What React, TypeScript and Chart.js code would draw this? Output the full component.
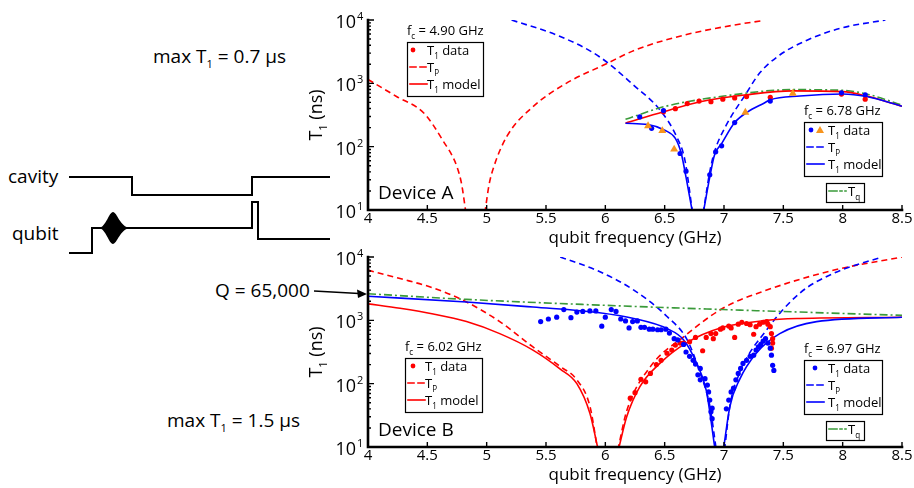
import { useEffect, useRef } from 'react';
import { Chart, registerables } from 'chart.js';

Chart.register(...registerables);

const FONT = '"Open Sans", "Noto Sans", "DejaVu Sans", sans-serif';

const RED = '#ff0000';
const BLUE = '#0000ff';
const GREEN = '#3a9a3a';
const ORANGE = '#f7941d';

// Axis ticks
const freqTicks = [4, 4.5, 5, 5.5, 6, 6.5, 7, 7.5, 8, 8.5];
const freqTickLabels = ['4', '4.5', '5', '5.5', '6', '6.5', '7', '7.5', '8', '8.5'];
const decadeTicks = [10, 100, 1000, 10000];
const decadeExponents = ['1', '2', '3', '4'];

// ---------- Device A (GHz, ns) ----------
const aRedTpLoF = [4.0, 4.24, 4.47, 4.63, 4.75, 4.79, 4.825];
const aRedTpLoT = [1150, 620, 340, 126, 48, 25, 9];
const aRedTpHiF = [4.985, 5.02, 5.06, 5.17, 5.39, 5.67, 6.0, 6.26, 6.66, 7.08, 7.33];
const aRedTpHiT = [9, 25, 48, 145, 427, 1000, 2000, 3400, 5750, 8300, 9800];
const aBlueTpLoF = [5.21, 5.62, 5.95, 6.24, 6.46, 6.6, 6.67, 6.735];
const aBlueTpLoT = [10000, 5500, 2630, 930, 380, 145, 62, 9];
const aBlueTpHiF = [6.825, 6.88, 6.92, 7.02, 7.18, 7.3, 7.47, 7.7, 7.98, 8.36];
const aBlueTpHiT = [9, 40, 83, 220, 660, 1450, 2800, 4800, 7400, 10000];
const aRedModelF = [6.17, 6.49, 6.8, 7.19, 7.58, 8.0, 8.2, 8.5];
const aRedModelT = [235, 355, 513, 660, 760, 740, 630, 435];
const aTqF = [6.17, 6.5, 7.0, 7.58, 8.0, 8.2, 8.5];
const aTqT = [270, 430, 630, 795, 775, 680, 455];
const aBlueModelLoF = [6.17, 6.36, 6.5, 6.59, 6.64, 6.68, 6.735];
const aBlueModelLoT = [234, 224, 182, 135, 78, 33, 9];
const aBlueModelHiF = [6.825, 6.88, 6.92, 6.98, 7.09, 7.2, 7.34, 7.39, 7.64, 8.0, 8.2, 8.5];
const aBlueModelHiT = [9, 33, 74, 112, 240, 355, 490, 550, 630, 680, 620, 435];
const aRedDataF = [6.49, 6.59, 6.69, 6.79, 6.89, 6.99, 7.09, 7.19, 7.39, 7.99, 8.19];
const aRedDataT = [355, 398, 479, 525, 513, 562, 589, 617, 603, 676, 562];
const aBlueDataF = [6.29, 6.39, 6.49, 6.63, 6.68, 6.88, 6.93, 6.98, 7.09, 7.39, 7.99, 8.19];
const aBlueDataT = [295, 195, 372, 78, 41, 36, 83, 103, 240, 525, 708, 660];
const aOrangeDataF = [6.36, 6.48, 6.58, 7.18, 7.58];
const aOrangeDataT = [213, 178, 91, 347, 692];

// ---------- Device B (GHz, ns) ----------
const bRedTpLoF = [4.0, 4.27, 4.55, 4.83, 5.11, 5.39, 5.62, 5.76, 5.87, 5.935];
const bRedTpLoT = [6200, 4570, 3240, 1950, 955, 380, 186, 115, 44, 9];
const bRedTpHiF = [6.105, 6.18, 6.38, 6.66, 6.99, 7.36, 7.92, 8.5];
const bRedTpHiT = [9, 37, 186, 550, 1550, 3000, 6170, 10000];
const bRedModelLoF = [4.0, 4.27, 4.55, 4.83, 5.11, 5.39, 5.62, 5.76, 5.87, 5.94];
const bRedModelLoT = [1820, 1550, 1260, 955, 617, 339, 170, 100, 34, 9];
const bRedModelHiF = [6.11, 6.18, 6.29, 6.46, 6.68, 6.99, 7.36, 7.64, 8.5];
const bRedModelHiT = [9, 30, 89, 209, 437, 776, 1000, 1070, 1120];
const bBlueTpLoF = [5.62, 5.95, 6.24, 6.52, 6.69, 6.8, 6.88, 6.935];
const bBlueTpLoT = [10000, 5900, 3000, 1150, 490, 145, 45, 9];
const bBlueTpHiF = [7.005, 7.05, 7.13, 7.36, 7.64, 7.92, 8.33];
const bBlueTpHiT = [9, 45, 145, 710, 2700, 5500, 10000];
const bBlueModelLoF = [4.0, 4.83, 5.39, 5.95, 6.24, 6.52, 6.66, 6.77, 6.85, 6.925];
const bBlueModelLoT = [2400, 1950, 1620, 1320, 1070, 740, 490, 209, 79, 9];
const bBlueModelHiF = [6.995, 7.05, 7.13, 7.27, 7.47, 7.78, 8.5];
const bBlueModelHiT = [9, 44, 115, 300, 617, 955, 1120];
const bTqF = [4.0, 4.83, 5.95, 6.99, 8.5];
const bTqT = [2630, 2140, 1740, 1480, 1200];
const bBlueDataF = [
  5.455, 5.52, 5.59, 5.65, 5.71, 5.76, 5.81, 5.87, 5.92, 5.97, 6.0, 6.05, 6.09, 6.13, 6.17, 6.2,
  6.23, 6.27, 6.3, 6.33, 6.37, 6.4, 6.44, 6.47, 6.51, 6.54, 6.58, 6.61, 6.66, 6.68, 6.71, 6.74,
  6.76, 6.78, 6.8, 6.8, 6.84, 6.86, 6.87, 6.88, 6.89, 6.9, 6.9, 7.02, 7.04, 7.06, 7.08, 7.1,
  7.12, 7.14, 7.16, 7.19, 7.22, 7.25, 7.27, 7.29, 7.31, 7.33, 7.35, 7.37, 7.39, 7.4, 7.41, 7.42,
];
const bBlueDataT = [
  955, 1050, 1120, 1480, 1100, 1350, 1380, 1410, 1410, 810, 1120, 1480, 1380, 1050, 980, 760,
  955, 980, 775, 775, 725, 725, 710, 710, 725, 630, 513, 490, 417, 316, 270, 234,
  204, 138, 115, 174, 120, 95, 74, 55, 36, 41, 28, 40, 55, 74, 85, 115,
  145, 174, 209, 234, 270, 282, 339, 380, 417, 468, 513, 437, 363, 282, 195, 162,
];
const bRedDataF = [
  6.21, 6.25, 6.3, 6.34, 6.38, 6.43, 6.47, 6.52, 6.56, 6.59, 6.63, 6.66, 6.71, 6.76, 6.82, 6.85,
  6.89, 6.91, 6.93, 6.97, 6.99, 7.04, 7.06, 7.09, 7.12, 7.15, 7.19, 7.22, 7.25, 7.27, 7.3, 7.33,
  7.36, 7.37, 7.39, 7.4, 7.41, 7.41, 7.4,
];
const bRedDataT = [
  59, 72, 117, 107, 145, 200, 234, 302, 339, 407, 437, 437, 457, 537, 331, 537,
  617, 513, 617, 724, 759, 813, 759, 537, 871, 933, 891, 851, 603, 794, 871, 933,
  955, 871, 794, 617, 513, 437, 363,
];

type Part = [string, number]; // 0 normal, 1 subscript, 2 superscript

function drawRich(ctx: CanvasRenderingContext2D, parts: Part[], x: number, y: number, size: number, align = 'left') {
  const small = size * 0.62;
  let w = 0;
  for (const p of parts) {
    ctx.font = `${p[1] ? small : size}px ${FONT}`;
    w += ctx.measureText(p[0]).width;
  }
  let cx = align === 'center' ? x - w / 2 : align === 'right' ? x - w : x;
  ctx.textAlign = 'left';
  ctx.textBaseline = 'alphabetic';
  for (const p of parts) {
    ctx.font = `${p[1] ? small : size}px ${FONT}`;
    const dy = p[1] === 1 ? size * 0.3 : p[1] === 2 ? -size * 0.45 : 0;
    ctx.fillText(p[0], cx, y + dy);
    cx += ctx.measureText(p[0]).width;
  }
}

const pts = (f: number[], t: number[]) => f.map((x, i) => ({ x, y: t[i] }));
const DASH = [6, 4];
const DASHDOT = [8, 3, 2, 3];

const curve = (f: number[], t: number[], color: string, dash: number[] = []) => ({
  data: pts(f, t),
  showLine: true,
  pointRadius: 0,
  borderColor: color,
  borderWidth: 1.6,
  borderDash: dash,
  cubicInterpolationMode: 'monotone',
  fill: false,
});

const dots = (f: number[], t: number[], color: string, style = 'circle', r = 2.6) => ({
  data: pts(f, t),
  showLine: false,
  pointRadius: r,
  pointStyle: style,
  backgroundColor: color,
  borderColor: color,
  pointBorderWidth: 0,
});

function drawIcon(ctx: CanvasRenderingContext2D, kind: string, color: string, x: number, y: number) {
  ctx.save();
  ctx.fillStyle = color;
  ctx.strokeStyle = color;
  ctx.lineWidth = 1.6;
  if (kind === 'dot') {
    ctx.beginPath();
    ctx.arc(x, y, 2.4, 0, Math.PI * 2);
    ctx.fill();
  } else if (kind === 'tri') {
    ctx.beginPath();
    ctx.moveTo(x, y - 4);
    ctx.lineTo(x + 4, y + 3);
    ctx.lineTo(x - 4, y + 3);
    ctx.closePath();
    ctx.fill();
  } else {
    ctx.setLineDash(kind === 'dash' ? DASH : kind === 'dashdot' ? DASHDOT : []);
    ctx.beginPath();
    ctx.moveTo(x, y);
    ctx.lineTo(x + 17, y);
    ctx.stroke();
  }
  ctx.restore();
}

const decorPlugin = {
  id: 'decor',
  afterDraw(chart: any, _args: any, opts: any) {
    const ctx: CanvasRenderingContext2D = chart.ctx;
    const { left, right, top, bottom } = chart.chartArea;
    const xs = chart.scales.x;
    const ys = chart.scales.y;
    ctx.save();
    ctx.fillStyle = '#000';
    ctx.strokeStyle = '#000';

    // tick marks (inside)
    ctx.lineWidth = 1.4;
    ctx.beginPath();
    for (const f of freqTicks) {
      const px = xs.getPixelForValue(f);
      ctx.moveTo(px, bottom);
      ctx.lineTo(px, bottom - 5);
    }
    for (let d = 0; d < decadeTicks.length; d++) {
      const base = decadeTicks[d];
      const last = d === decadeTicks.length - 1;
      for (let m = 1; m <= (last ? 1 : 9); m++) {
        const py = ys.getPixelForValue(base * m);
        ctx.moveTo(left, py);
        ctx.lineTo(left + (m === 1 ? 6 : 3), py);
      }
    }
    ctx.stroke();

    // axis lines
    ctx.lineWidth = 2.6;
    ctx.lineCap = 'square';
    ctx.beginPath();
    ctx.moveTo(left, top);
    ctx.lineTo(left, bottom);
    ctx.lineTo(right, bottom);
    ctx.stroke();

    // tick labels
    ctx.textAlign = 'center';
    ctx.textBaseline = 'alphabetic';
    ctx.font = `15px ${FONT}`;
    freqTicks.forEach((f, i) => {
      ctx.fillText(freqTickLabels[i], xs.getPixelForValue(f), bottom + 13);
    });
    decadeTicks.forEach((v, i) => {
      const py = ys.getPixelForValue(v);
      ctx.textAlign = 'right';
      ctx.font = `18px ${FONT}`;
      ctx.fillText('10', left - 12, py + 8);
      ctx.textAlign = 'left';
      ctx.font = `11px ${FONT}`;
      ctx.fillText(decadeExponents[i], left - 11, py);
    });

    // axis titles
    drawRich(ctx, [['qubit frequency (GHz)', 0]], (left + right) / 2, bottom + 33, 17, 'center');
    ctx.save();
    ctx.translate(16, (top + bottom) / 2);
    ctx.rotate(-Math.PI / 2);
    drawRich(ctx, [['T', 0], ['1', 1], [' (ns)', 0]], 0, 6, 18, 'center');
    ctx.restore();

    // device label
    drawRich(ctx, [[opts.device, 0]], left + 10, bottom - 11, 19);

    // legends
    for (const lg of opts.legends) {
      drawRich(ctx, [['f', 0], ['c', 1], [` = ${lg.fc} GHz`, 0]], lg.x, lg.y - 7, 13);
      ctx.lineWidth = 1.2;
      ctx.strokeStyle = '#000';
      ctx.strokeRect(lg.x + 0.5, lg.y + 0.5, lg.w, 54);
      const rows: Part[][] = [
        [['T', 0], ['1', 1], [' data', 0]],
        [['T', 0], ['P', 1]],
        [['T', 0], ['1', 1], [' model', 0]],
      ];
      const rowY = [lg.y + 8, lg.y + 25, lg.y + 42];
      lg.dataIcons.forEach((ic: any) => drawIcon(ctx, ic.kind, ic.color, lg.x + ic.dx, rowY[0]));
      drawIcon(ctx, 'dash', lg.color, lg.x + 3, rowY[1]);
      drawIcon(ctx, 'solid', lg.color, lg.x + 3, rowY[2]);
      rows.forEach((r, i) => drawRich(ctx, r, lg.x + lg.textDx, rowY[i] + 5, 13));
    }
    if (opts.tq) {
      const q = opts.tq;
      ctx.lineWidth = 1.2;
      ctx.strokeRect(q.x + 0.5, q.y + 0.5, 38, 19);
      drawIcon(ctx, 'dashdot', GREEN, q.x + 3, q.y + 8);
      drawRich(ctx, [['T', 0], ['q', 1]], q.x + 22, q.y + 13, 13);
    }
    ctx.restore();
  },
};

function Panel({ datasets, decor, top }: { datasets: any[]; decor: any; top: number }) {
  const ref = useRef<HTMLCanvasElement>(null);
  useEffect(() => {
    const chart = new Chart(ref.current as HTMLCanvasElement, {
      type: 'scatter',
      data: { datasets },
      options: {
        animation: false,
        responsive: false,
        events: [],
        layout: { padding: { left: 68, right: 12, top: 20, bottom: 40 } },
        scales: {
          x: { type: 'linear', min: 4, max: 8.5, display: false },
          y: { type: 'logarithmic', min: 10, max: 10000, display: false },
        },
        plugins: { legend: { display: false }, tooltip: { enabled: false }, decor } as any,
      },
      plugins: [decorPlugin],
    } as any);
    return () => chart.destroy();
  }, []);
  return (
    <canvas
      ref={ref}
      width={614}
      height={250}
      style={{ position: 'absolute', left: 300, top, width: 614, height: 250 }}
    />
  );
}

const deviceA = [
  dots(aOrangeDataF, aOrangeDataT, ORANGE, 'triangle', 4.6),
  dots(aBlueDataF, aBlueDataT, BLUE),
  dots(aRedDataF, aRedDataT, RED),
  curve(aBlueModelLoF, aBlueModelLoT, BLUE),
  curve(aBlueModelHiF, aBlueModelHiT, BLUE),
  curve(aRedModelF, aRedModelT, RED),
  curve(aTqF, aTqT, GREEN, DASHDOT),
  curve(aBlueTpLoF, aBlueTpLoT, BLUE, DASH),
  curve(aBlueTpHiF, aBlueTpHiT, BLUE, DASH),
  curve(aRedTpLoF, aRedTpLoT, RED, DASH),
  curve(aRedTpHiF, aRedTpHiT, RED, DASH),
];

const deviceB = [
  dots(bBlueDataF, bBlueDataT, BLUE),
  dots(bRedDataF, bRedDataT, RED),
  curve(bBlueModelLoF, bBlueModelLoT, BLUE),
  curve(bBlueModelHiF, bBlueModelHiT, BLUE),
  curve(bRedModelLoF, bRedModelLoT, RED),
  curve(bRedModelHiF, bRedModelHiT, RED),
  curve(bTqF, bTqT, GREEN, DASHDOT),
  curve(bBlueTpLoF, bBlueTpLoT, BLUE, DASH),
  curve(bBlueTpHiF, bBlueTpHiT, BLUE, DASH),
  curve(bRedTpLoF, bRedTpLoT, RED, DASH),
  curve(bRedTpHiF, bRedTpHiT, RED, DASH),
];

const decorA = {
  device: 'Device A',
  legends: [
    { fc: '4.90', x: 107, y: 42, w: 76, color: RED, textDx: 20, dataIcons: [{ kind: 'dot', color: RED, dx: 6 }] },
    {
      fc: '6.78', x: 504, y: 122, w: 78, color: BLUE, textDx: 24,
      dataIcons: [{ kind: 'dot', color: BLUE, dx: 7 }, { kind: 'tri', color: ORANGE, dx: 16 }],
    },
  ],
  tq: { x: 526, y: 183 },
};

const decorB = {
  device: 'Device B',
  legends: [
    { fc: '6.02', x: 105, y: 121, w: 77, color: RED, textDx: 20, dataIcons: [{ kind: 'dot', color: RED, dx: 8 }] },
    { fc: '6.97', x: 504, y: 123, w: 78, color: BLUE, textDx: 24, dataIcons: [{ kind: 'dot', color: BLUE, dx: 11 }] },
  ],
  tq: { x: 526, y: 184 },
};

const textStyle = { fontFamily: FONT, fill: '#000' } as const;

export default function App() {
  return (
    <div
      style={{ position: 'fixed', left: 0, top: 0, width: 914, height: 488, background: '#fff', overflow: 'hidden' }}
    >
      <svg width={914} height={488} style={{ position: 'absolute', left: 0, top: 0 }}>
        <text x={153} y={63} fontSize={19} {...textStyle}>
          max T<tspan fontSize={11} dy={5}>1</tspan>
          <tspan dy={-5}> = 0.7 μs</tspan>
        </text>
        <text x={167} y={427} fontSize={19} {...textStyle}>
          max T<tspan fontSize={11} dy={5}>1</tspan>
          <tspan dy={-5}> = 1.5 μs</tspan>
        </text>
        <text x={8} y={183} fontSize={19} {...textStyle}>cavity</text>
        <text x={12} y={240} fontSize={19} {...textStyle}>qubit</text>
        <text x={215} y={297} fontSize={19} {...textStyle}>Q = 65,000</text>

        <g fill="none" stroke="#000" strokeWidth={2} strokeLinejoin="miter">
          <polyline points="69,177 132,177 132,195 252,195 252,177 330,177" />
          <polyline points="69,253 92,253 92,228 252,228 252,202 258,202 258,239 330,239" />
          <line x1={314} y1={291} x2={359} y2={293.5} strokeWidth={1.6} />
        </g>
        <path
          d="M99,228 C106,227 109,212 113,212 C117,212 120,227 130,228 C120,229 117,244 113,244 C109,244 106,229 99,228 Z"
          fill="#000"
        />
        <polygon points="367,294 357,289.5 358,298" fill="#000" />
      </svg>
      <Panel datasets={deviceA} decor={decorA} top={0} />
      <Panel datasets={deviceB} decor={decorB} top={237} />
    </div>
  );
}
